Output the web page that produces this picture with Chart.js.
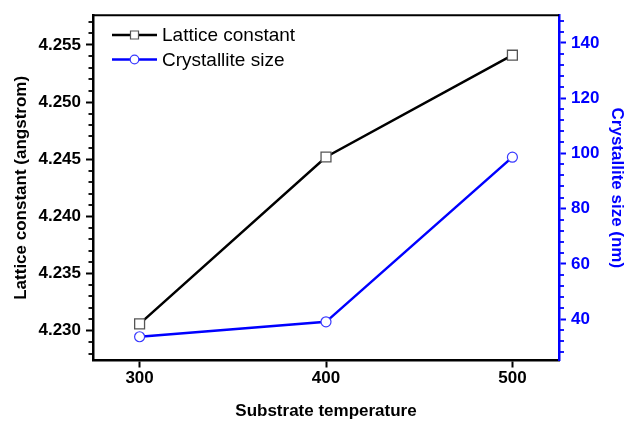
<!DOCTYPE html>
<html>
<head>
<meta charset="utf-8">
<script src="https://cdn.jsdelivr.net/npm/chart.js@4/dist/chart.umd.min.js"></script>
<style>
html, body { margin: 0; padding: 0; background: #fff; }
#wrap { width: 627px; height: 422px; }
</style>
</head>
<body>
<div id="wrap"><canvas id="lineChart" width="627" height="422"></canvas></div>
<script>
// data
var temperatures = [300, 400, 500];
var latticeConstant = [4.2306, 4.2452, 4.2541];
var crystalliteSize = [33.6, 39.0, 98.6];

var xTicks = [300, 400, 500];
var latticeTicks = [4.230, 4.235, 4.240, 4.245, 4.250, 4.255];
var sizeTicks = [40, 60, 80, 100, 120, 140];

var FONT = "'Liberation Sans', Arial, Helvetica, sans-serif";
var BLUE = '#0000ff';

function toPoints(xs, ys) {
    return xs.map(function (x, i) { return { x: x, y: ys[i] }; });
}

// top frame line, minor ticks and the inside legend
var extras = {
    id: 'extras',
    afterDraw: function (chart) {
        'use strict';
        var ctx = chart.ctx;
        var area = chart.chartArea;
        var yL = chart.scales.y;
        var yR = chart.scales.y1;
        var v, px;

        ctx.save();
        ctx.strokeStyle = '#000';
        ctx.lineWidth = 2;
        ctx.beginPath();
        ctx.moveTo(area.left - 1, area.top);
        ctx.lineTo(area.right, area.top);
        ctx.stroke();

        // minor ticks, left axis every 0.001
        ctx.lineWidth = 1.8;
        for (var i = 4228; i <= 4257; i++) {
            if (i % 5 === 0) { continue; }
            px = Math.round(yL.getPixelForValue(i / 1000));
            ctx.beginPath();
            ctx.moveTo(area.left - 4.5, px);
            ctx.lineTo(area.left, px);
            ctx.stroke();
        }
        // minor ticks, right axis every 4
        ctx.strokeStyle = BLUE;
        for (v = 28; v <= 148; v += 4) {
            if (v % 20 === 0) { continue; }
            px = Math.round(yR.getPixelForValue(v));
            ctx.beginPath();
            ctx.moveTo(area.right, px);
            ctx.lineTo(area.right + 5, px);
            ctx.stroke();
        }

        // legend
        var rows = [35, 59.5];
        ctx.font = '19px ' + FONT;
        ctx.textBaseline = 'middle';
        ctx.textAlign = 'left';
        chart.data.datasets.forEach(function (ds, k) {
            var y = rows[k];
            ctx.strokeStyle = ds.borderColor;
            ctx.lineWidth = 2.5;
            ctx.beginPath();
            ctx.moveTo(112, y);
            ctx.lineTo(157, y);
            ctx.stroke();
            ctx.fillStyle = '#fff';
            ctx.strokeStyle = ds.pointBorderColor;
            ctx.lineWidth = 1.2;
            ctx.beginPath();
            if (ds.pointStyle === 'rect') {
                ctx.rect(130.5, y - 4, 8, 8);
            } else {
                ctx.arc(134.5, y, 4.3, 0, Math.PI * 2);
            }
            ctx.fill();
            ctx.stroke();
            ctx.fillStyle = '#000';
            ctx.fillText(ds.label, 162, y + 1);
        });
        ctx.restore();
    }
};

var ctx = document.getElementById('lineChart').getContext('2d');
var lineChart = new Chart(ctx, {
    type: 'line',
    data: {
        datasets: [
            {
                label: 'Lattice constant',
                data: toPoints(temperatures, latticeConstant),
                yAxisID: 'y',
                borderColor: '#000',
                borderWidth: 2.5,
                pointStyle: 'rect',
                pointRadius: 7,
                pointBorderColor: '#555',
                pointBackgroundColor: '#fff',
                pointBorderWidth: 1.3,
                fill: false,
                tension: 0
            },
            {
                label: 'Crystallite size',
                data: toPoints(temperatures, crystalliteSize),
                yAxisID: 'y1',
                borderColor: BLUE,
                borderWidth: 2.5,
                pointStyle: 'circle',
                pointRadius: 5,
                pointBorderColor: '#3a3aff',
                pointBackgroundColor: '#fff',
                pointBorderWidth: 1.2,
                fill: false,
                tension: 0
            }
        ]
    },
    options: {
        responsive: false,
        devicePixelRatio: 1,
        animation: false,
        layout: { padding: { top: 13, left: 0, right: 0, bottom: 0 } },
        plugins: { legend: { display: false }, tooltip: { enabled: false } },
        scales: {
            x: {
                type: 'linear',
                position: 'bottom',
                min: 275,
                max: 525,
                afterBuildTicks: function (s) { s.ticks = xTicks.map(function (v) { return { value: v }; }); },
                afterFit: function (s) { s.height = 61.5; },
                ticks: {
                    color: '#000',
                    padding: 1,
                    maxRotation: 0,
                    font: { family: FONT, size: 17, weight: 'bold' },
                    callback: function (v) { return String(v); }
                },
                grid: { drawOnChartArea: false, drawTicks: true, tickLength: 7, tickWidth: 2, tickColor: '#000' },
                border: { display: true, color: '#000', width: 2.5 },
                title: {
                    display: true,
                    text: 'Substrate temperature',
                    color: '#000',
                    font: { family: FONT, size: 17, weight: 'bold' },
                    padding: { top: 0, bottom: 0 }
                }
            },
            y: {
                type: 'linear',
                position: 'left',
                min: 4.2274,
                max: 4.2576,
                afterBuildTicks: function (s) { s.ticks = latticeTicks.map(function (v) { return { value: v }; }); },
                afterFit: function (s) { s.width = 93; },
                ticks: {
                    color: '#000',
                    padding: 5,
                    font: { family: FONT, size: 17, weight: 'bold' },
                    callback: function (v) { return Number(v).toFixed(3); }
                },
                grid: { drawOnChartArea: false, drawTicks: true, tickLength: 7, tickWidth: 2, tickColor: '#000' },
                border: { display: true, color: '#000', width: 2.5 },
                title: {
                    display: true,
                    text: 'Lattice constant (angstrom)',
                    color: '#000',
                    font: { family: FONT, size: 17, weight: 'bold' },
                    padding: { top: 11, bottom: 0 }
                }
            },
            y1: {
                type: 'linear',
                position: 'right',
                min: 25,
                max: 150,
                afterBuildTicks: function (s) { s.ticks = sizeTicks.map(function (v) { return { value: v }; }); },
                afterFit: function (s) { s.width = 68; },
                ticks: {
                    color: BLUE,
                    padding: 5,
                    font: { family: FONT, size: 17, weight: 'bold' },
                    callback: function (v) { return String(v); }
                },
                grid: { drawOnChartArea: false, drawTicks: true, tickLength: 7, tickWidth: 2, tickColor: BLUE },
                border: { display: true, color: BLUE, width: 2.5 },
                title: {
                    display: true,
                    text: 'Crystallite size (nm)',
                    color: BLUE,
                    font: { family: FONT, size: 17, weight: 'bold' },
                    padding: { top: 0, bottom: 0 }
                }
            }
        }
    },
    plugins: [extras]
});
</script>
</body>
</html>
